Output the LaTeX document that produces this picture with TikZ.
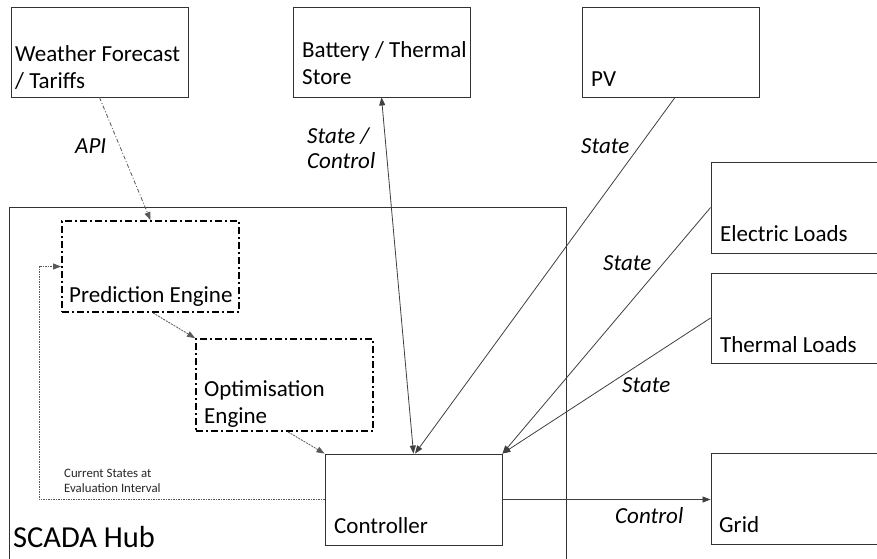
\documentclass[tikz,border=0pt]{standalone}
\usepackage{fontspec}
\setmainfont{Carlito}
\usetikzlibrary{arrows.meta,fit,calc}
\begin{document}
\begin{tikzpicture}[x=1pt,y=-1pt,
  box/.style={draw=black!80, line width=0.9pt, inner sep=0pt},
  engine/.style={draw=black, line width=1.8pt, dash pattern=on 7pt off 3pt on 2pt off 3pt, inner sep=0pt},
  txt/.style={anchor=base west, inner sep=0pt, font=\fontsize{23}{27}\selectfont, align=left},
  lbl/.style={anchor=base west, inner sep=0pt, font=\fontsize{23}{25}\selectfont\itshape, align=left},
  small/.style={anchor=base west, inner sep=0pt, font=\fontsize{12.8}{15}\selectfont, align=left, text=black!85},
  tip/.style={-{Triangle[length=8pt,width=6pt]}},
  conn/.style={draw=black!75, line width=0.8pt, tip},
  apiline/.style={draw=black!65, line width=0.8pt, dash pattern=on 4pt off 2pt on 1pt off 2pt, tip},
  fine/.style={draw=black!65, line width=0.8pt, dash pattern=on 2pt off 1pt, tip},
  dots/.style={draw=black!65, line width=0.8pt, dash pattern=on 1.5pt off 1pt, tip}
]
\useasboundingbox (0,0) rectangle (877,558);
\fill[white] (0,0) rectangle (877,558);

% outer hub
\node[box, fit={(9,207)(566,575)}] (hub) {};
\node[anchor=base west, inner sep=0pt, font=\fontsize{30.5}{36}\selectfont] (hubt) at (13,547) {SCADA Hub};

% external boxes
\node[box, fit={(11,7)(188,97)}] (wf) {};
\node[txt] (wft) at (15,88) {Weather Forecast\\/ Tariffs};
\node[box, fit={(293,7)(470,97)}] (bat) {};
\node[txt] (batt) at (302,84) {Battery / Thermal\\Store};
\node[box, fit={(582,7)(759,97)}] (pv) {};
\node[txt] (pvt) at (591,86) {PV};
\node[box, fit={(711,162)(895,253)}] (el) {};
\node[txt] (elt) at (720,241) {Electric Loads};
\node[box, fit={(711,273)(895,363)}] (th) {};
\node[txt] (tht) at (720,352) {Thermal Loads};
\node[box, fit={(711,453)(895,544)}] (grid) {};
\node[txt] (gridt) at (719,532) {Grid};

% inner boxes
\node[engine, fit={(62,221)(239,312)}] (pred) {};
\node[txt] (predt) at (69,302) {Prediction Engine};
\node[engine, fit={(196,339)(373,431)}] (opt) {};
\node[txt] (optt) at (204,423) {Optimisation\\Engine};
\node[box, fit={(325,454)(502,545)}] (ctrl) {};
\node[txt] (ctrlt) at (334,533) {Controller};

% connectors
\draw[apiline] (wf.south) -- (pred.north);
\draw[conn, {Triangle[length=8pt,width=6pt]}-{Triangle[length=8pt,width=6pt]}] (bat.south) -- (ctrl.north);
\draw[conn] ([xshift=4.5pt]pv.south) -- ([xshift=1.5pt]ctrl.north);
\draw[conn] (el.west) -- (ctrl.north east);
\draw[conn] (th.west) -- (ctrl.north east);
\draw[conn] (ctrl.east) -- (ctrl.east -| grid.west);
\draw[fine] ([xshift=2.5pt]pred.south) -- (opt.north west);
\draw[fine] ([xshift=3.5pt]opt.south) -- (ctrl.north west);
\coordinate (fb) at (39,500);
\draw[dots] (ctrl.west) -- (ctrl.west -| fb) |- (pred.west);

% labels
\node[lbl] (apil) at (75,153) {API};
\node[lbl] (batl) at (307,168) {State /\\Control};
\node[lbl] (pvl) at (581,153) {State};
\node[lbl] (ell) at (603,270) {State};
\node[lbl] (thl) at (622,392) {State};
\node[lbl] (gridl) at (615,523) {Control};
\node[small] (fbl) at (64,492) {Current States at\\Evaluation Interval};
\end{tikzpicture}
\end{document}
